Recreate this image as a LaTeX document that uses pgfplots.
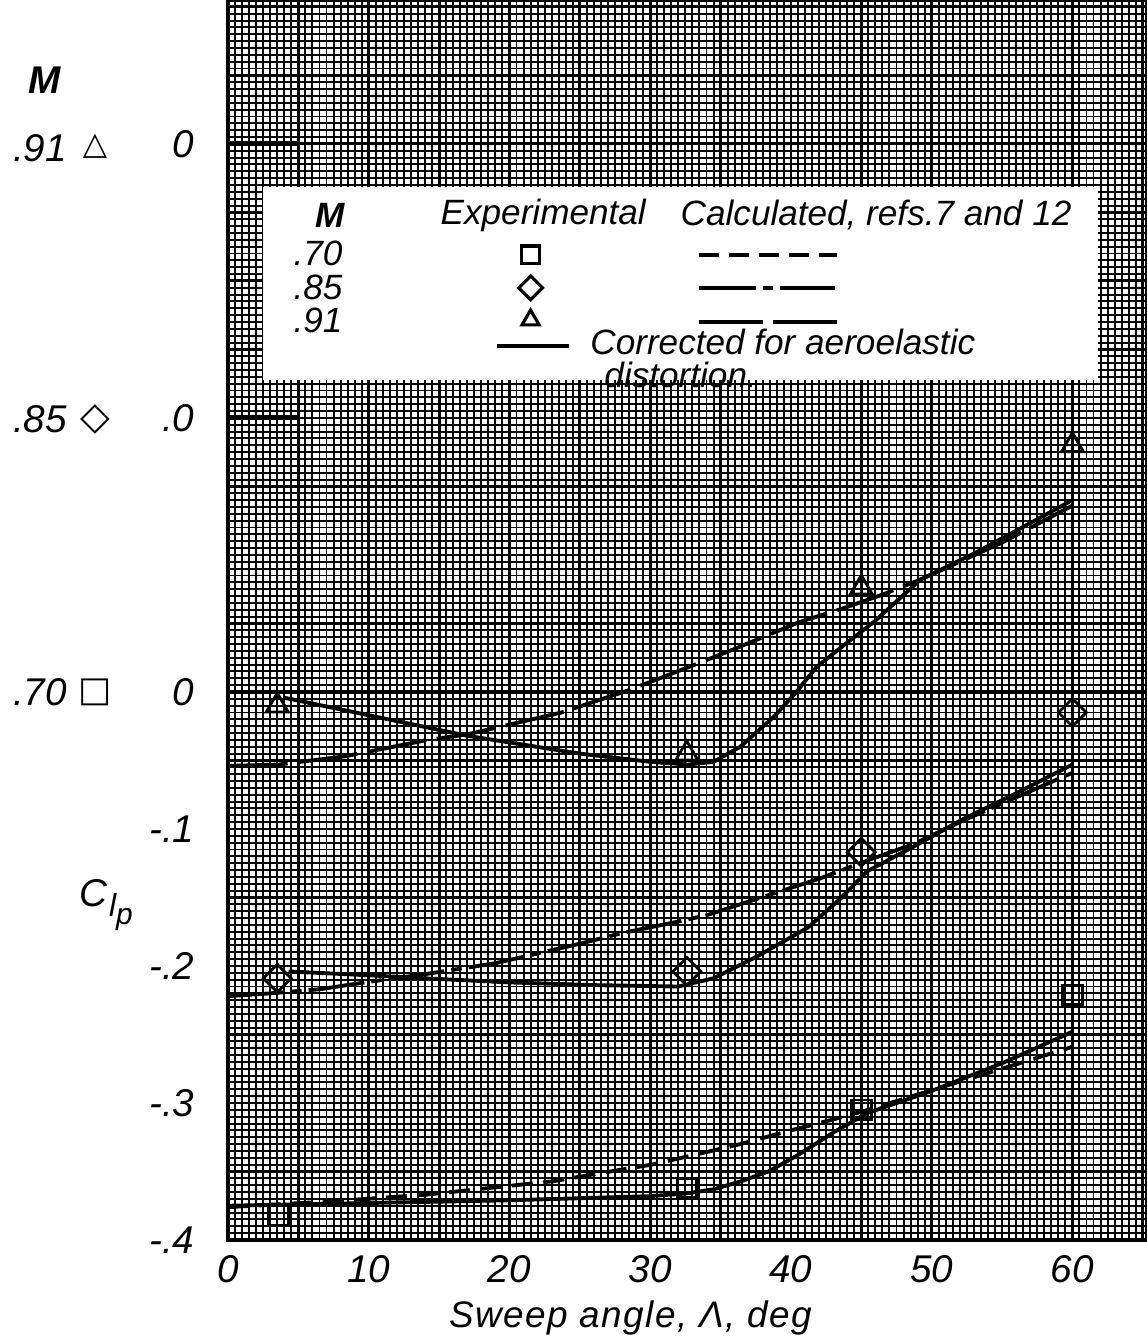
\documentclass[border=0pt]{standalone}
\usepackage{pgfplots}
\pgfplotsset{compat=1.18}
\usepackage{fontspec}
\setmainfont{Liberation Sans}
\newfontfamily\dejavu{DejaVu Sans}

% M = 0.70 (plotted with no shift)
\pgfplotstableread{
x y
3.6 -0.382
32.6 -0.362
45 -0.305
60 -0.221
}\expA
\pgfplotstableread{
x y
0 -0.376
7 -0.372
14 -0.367
18.6 -0.362
23.2 -0.357
26 -0.352
30.1 -0.345
33.5 -0.337
36.4 -0.330
40 -0.320
43 -0.312
45.5 -0.305
50.2 -0.290
55 -0.275
60 -0.259
}\calA
\pgfplotstableread{
x y
0 -0.375
10 -0.373
20 -0.371
30 -0.368
32.6 -0.366
34.5 -0.363
36.5 -0.357
38.4 -0.350
40.5 -0.338
43.1 -0.321
45.5 -0.307
49.8 -0.292
55 -0.271
60 -0.248
}\corA
% M = 0.85 (plotted shifted up by 0.2)
\pgfplotstableread{
x y
3.5 -0.209
32.6 -0.204
45 -0.117
60 -0.015
}\expB
\pgfplotstableread{
x y
0 -0.222
3 -0.220
6.5 -0.217
10.4 -0.211
14 -0.206
19 -0.198
24.9 -0.184
28 -0.176
31.8 -0.168
34 -0.163
38.8 -0.147
42.1 -0.136
44.9 -0.125
48.7 -0.111
52.2 -0.094
56 -0.077
60 -0.059
}\calB
\pgfplotstableread{
x y
4.3 -0.204
10.4 -0.207
14 -0.209
20 -0.212
26.1 -0.214
32 -0.215
34.5 -0.209
37.6 -0.193
41.2 -0.172
43.5 -0.151
45.4 -0.131
48.7 -0.113
52.2 -0.093
56 -0.074
60 -0.053
}\corB
% M = 0.91 (plotted shifted up by 0.4)
\pgfplotstableread{
x y
3.5 -0.010
32.6 -0.045
45 0.076
60 0.180
}\expC
\pgfplotstableread{
x y
0 -0.054
3.6 -0.053
8.3 -0.047
14.2 -0.035
17 -0.031
23.7 -0.015
28.4 0.001
32.2 0.016
35.9 0.031
40.6 0.051
43.7 0.061
46.5 0.071
49.2 0.082
55 0.109
60 0.136
}\calC
\pgfplotstableread{
x y
3.9 -0.004
10 -0.017
17 -0.032
25 -0.045
30 -0.051
32.7 -0.053
34.5 -0.051
36.4 -0.040
38.8 -0.018
40.3 -0.001
41.8 0.018
43.5 0.032
46 0.052
49.2 0.082
53.2 0.102
60 0.140
}\corC

\begin{document}
\begin{tikzpicture}
\useasboundingbox (-2.28cm,-1.04cm) rectangle (9.19cm,12.40cm);
\begin{axis}[
  at={(0,0)}, anchor=south west,
  scale only axis, width=9.19cm, height=12.4cm,
  xmin=0, xmax=65.3, ymin=-0.4, ymax=0.505,
  xtick={0,5,...,65},
  xticklabels={0,,10,,20,,30,,40,,50,,60,},
  ytick={-0.4,-0.35,-0.3,-0.25,-0.2,-0.15,-0.1,-0.05,0,0.05,0.1,0.15,0.2,0.25,0.3,0.35,0.4,0.45,0.5},
  yticklabels={-.4,,-.3,,-.2,,-.1,,0,,,,.0,,,,0,,},
  minor x tick num=9, minor y tick num=9,
  grid=both,
  major grid style={black, line width=0.8pt},
  minor grid style={black, line width=0.55pt},
  major tick length=0pt, minor tick length=0pt,
  axis line style={black, line width=1.1pt},
  tick label style={font=\fontsize{11}{13}\selectfont\itshape},
  xticklabel style={yshift=-1pt},
  yticklabel style={xshift=-6pt},
  clip=false,
  xlabel={Sweep angle, Λ, deg},
  xlabel style={font=\fontsize{10.5}{13}\selectfont\itshape\addfontfeatures{LetterSpace=4},
    at={(axis description cs:0.438,0)}, anchor=center, yshift=-7.8mm},
]
% zero reference lines
\addplot[black, line width=1.2pt] coordinates {(0,0) (65.3,0)};
\addplot[black, line width=1.4pt] coordinates {(0,0.2) (5,0.2)};
\addplot[black, line width=1.4pt] coordinates {(0,0.4) (5,0.4)};

% M = 0.70
\addplot[black, line width=1.1pt, dash pattern=on 6pt off 3pt] table[x=x,y=y] {\calA};
\addplot[black, line width=1.1pt] table[x=x,y=y] {\corA};
\addplot[black, only marks, mark=square, mark size=2.8pt, mark options={line width=0.8pt}] table[x=x,y=y] {\expA};
% M = 0.85
\addplot[black, line width=1.1pt, dash pattern=on 16pt off 2pt on 3pt off 2pt] table[x=x,y=y] {\calB};
\addplot[black, line width=1.1pt] table[x=x,y=y] {\corB};
\addplot[black, only marks, mark=square, mark size=2.8pt, mark options={rotate=45, line width=0.8pt}] table[x=x,y=y] {\expB};
% M = 0.91
\addplot[black, line width=1.1pt, dash pattern=on 17pt off 3pt] table[x=x,y=y] {\calC};
\addplot[black, line width=1.1pt] table[x=x,y=y] {\corC};
\addplot[black, only marks, mark=triangle, mark size=3.6pt, mark options={line width=0.8pt}] table[x=x,y=y] {\expC};

% legend box
\fill[white] (axis cs:2.49,0.2277) rectangle (axis cs:61.8,0.3686);
\begin{scope}[every node/.style={font=\fontsize{10}{12}\selectfont\itshape, inner sep=0pt}]
\node[font=\fontsize{10}{12}\selectfont\bfseries\itshape] at (axis cs:7.25,0.348) {M};
\node at (axis cs:22.4,0.348) {Experimental};
\node at (axis cs:46.05,0.348) {Calculated, refs.7 and 12};
\node at (axis cs:6.4,0.3204) {.70};
\node at (axis cs:6.4,0.2956) {.85};
\node at (axis cs:6.4,0.2715) {.91};
\node[anchor=west] at (axis cs:25.7,0.2555) {Corrected for aeroelastic};
\node[anchor=west] at (axis cs:26.7,0.2314) {distortion.};
\end{scope}
\addplot[black, only marks, mark=square, mark size=2.5pt, mark options={line width=0.9pt}] coordinates {(21.5,0.319)};
\addplot[black, only marks, mark=square, mark size=2.4pt, mark options={rotate=45, line width=0.9pt}] coordinates {(21.5,0.2949)};
\addplot[black, only marks, mark=triangle, mark size=2.8pt, mark options={line width=0.9pt}] coordinates {(21.5,0.2715)};
\addplot[black, line width=1.2pt, dash pattern=on 5.7pt off 2.8pt] coordinates {(33.5,0.319) (43.3,0.319)};
\addplot[black, line width=1.2pt, dash pattern=on 16pt off 2pt on 3pt off 2pt] coordinates {(33.5,0.2949) (43.1,0.2949)};
\addplot[black, line width=1.2pt, dash pattern=on 18pt off 3pt] coordinates {(33.5,0.2701) (43.4,0.2701)};
\addplot[black, line width=1.2pt] coordinates {(19.1,0.2526) (24.2,0.2526)};

% left-hand scale annotations
\begin{scope}[every node/.style={font=\fontsize{11}{13}\selectfont\itshape, inner sep=0pt}]
\node[font=\fontsize{11}{13}\selectfont\bfseries\itshape] at (axis cs:-13.0,0.4467) {M};
\node at (axis cs:-13.36,0.397) {.91};
\node at (axis cs:-13.36,0.199) {.85};
\node at (axis cs:-13.36,0.0) {.70};
\node at (axis cs:-9.45,0.398) {\dejavu\bfseries\fontsize{9}{10}\selectfont △};
\node at (axis cs:-9.45,0.199) {\dejavu\bfseries\fontsize{11}{12}\selectfont ◇};
\node at (axis cs:-9.45,0.0) {\dejavu\bfseries\fontsize{10}{11}\selectfont □};
\node at (axis description cs:0,0.27) [xshift=-12.2mm] {C\kern0.05em\raisebox{-0.5ex}{\fontsize{9}{10}\selectfont l\raisebox{-0.5ex}{\fontsize{8.5}{9}\selectfont p}}};
\end{scope}
\end{axis}
\end{tikzpicture}
\end{document}
